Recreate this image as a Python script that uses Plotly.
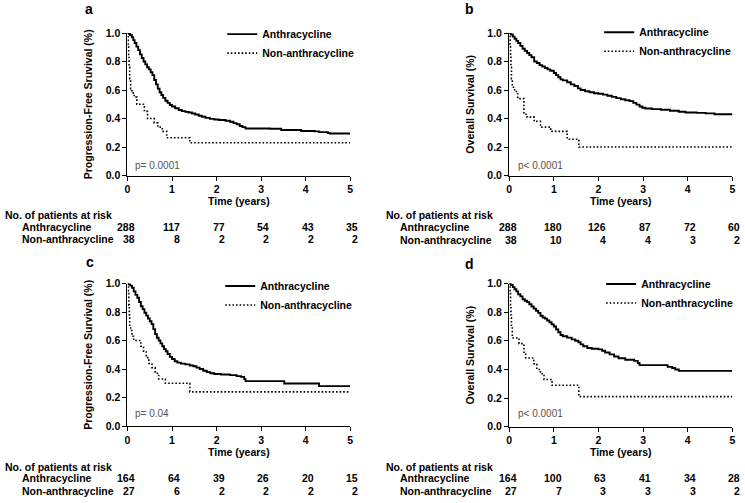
import plotly.graph_objects as go

# ---------------- data ----------------
# Panel a: Progression-free survival (all patients)
a_anth_t = [0, 0.03, 0.06, 0.1, 0.13, 0.16, 0.2, 0.24, 0.28, 0.32, 0.36, 0.4, 0.44, 0.48, 0.52, 0.56,
            0.6, 0.64, 0.68, 0.72, 0.76, 0.8, 0.85, 0.9, 0.95, 1.0, 1.07, 1.15, 1.22, 1.3, 1.37, 1.45,
            1.52, 1.6, 1.67, 1.75, 1.85, 1.95, 2.05, 2.2, 2.3, 2.38, 2.45, 2.52, 2.58, 2.65, 3.2, 3.45,
            3.9, 4.2, 4.3, 4.5, 4.55, 5.0]
a_anth_s = [1.0, 0.995, 0.985, 0.97, 0.95, 0.93, 0.905, 0.88, 0.85, 0.825, 0.8, 0.78, 0.76, 0.745, 0.725, 0.705,
            0.67, 0.64, 0.61, 0.585, 0.565, 0.545, 0.525, 0.51, 0.495, 0.485, 0.472, 0.46, 0.452, 0.447, 0.442, 0.435,
            0.428, 0.42, 0.413, 0.405, 0.398, 0.393, 0.39, 0.385, 0.378, 0.368, 0.36, 0.348, 0.34, 0.33, 0.328, 0.32,
            0.313, 0.31, 0.305, 0.298, 0.295, 0.295]
a_non_t = [0, 0.015, 0.025, 0.035, 0.05, 0.07, 0.1, 0.15, 0.21, 0.38, 0.45, 0.6, 0.68, 0.78, 0.88, 1.4, 5.0]
a_non_s = [1.0, 0.92, 0.84, 0.76, 0.68, 0.61, 0.58, 0.55, 0.5, 0.45, 0.4, 0.37, 0.34, 0.31, 0.265, 0.23, 0.23]

# Panel b: Overall survival (all patients)
b_anth_t = [0, 0.04, 0.08, 0.12, 0.16, 0.2, 0.25, 0.3, 0.35, 0.4, 0.45, 0.5, 0.56, 0.62, 0.68, 0.74, 0.8,
            0.86, 0.92, 1.0, 1.05, 1.1, 1.15, 1.2, 1.3, 1.38, 1.46, 1.54, 1.6, 1.7, 1.8, 1.9, 2.0, 2.1,
            2.2, 2.3, 2.4, 2.5, 2.6, 2.7, 2.78, 2.85, 2.92, 2.98, 3.05, 3.2, 3.4, 3.6, 3.8, 3.95, 4.2,
            4.4, 4.6, 5.0]
b_anth_s = [1.0, 0.99, 0.975, 0.96, 0.945, 0.93, 0.91, 0.89, 0.875, 0.86, 0.845, 0.83, 0.8, 0.79, 0.775, 0.765, 0.755,
            0.745, 0.735, 0.72, 0.705, 0.69, 0.675, 0.668, 0.655, 0.64, 0.628, 0.612, 0.6, 0.592, 0.585, 0.578, 0.574, 0.568,
            0.56, 0.552, 0.543, 0.535, 0.528, 0.522, 0.51, 0.498, 0.485, 0.476, 0.47, 0.466, 0.462, 0.455, 0.448, 0.442, 0.44,
            0.436, 0.43, 0.43]
b_non_t = [0, 0.02, 0.03, 0.04, 0.05, 0.07, 0.12, 0.19, 0.33, 0.4, 0.56, 0.7, 0.93, 1.3, 1.56, 5.0]
b_non_s = [1.0, 0.92, 0.84, 0.76, 0.68, 0.62, 0.59, 0.54, 0.43, 0.41, 0.38, 0.34, 0.31, 0.255, 0.2, 0.2]

# Panel c: Progression-free survival (subgroup)
c_anth_t = [0, 0.03, 0.06, 0.1, 0.14, 0.18, 0.22, 0.26, 0.3, 0.34, 0.38, 0.42, 0.46, 0.5, 0.54, 0.58,
            0.62, 0.66, 0.7, 0.74, 0.78, 0.82, 0.86, 0.9, 0.95, 1.0, 1.06, 1.12, 1.2, 1.3, 1.4, 1.48,
            1.55, 1.62, 1.7, 1.78, 1.86, 1.95, 2.1, 2.3, 2.45, 2.55, 2.62, 2.65, 3.52, 4.3, 5.0]
c_anth_s = [1.0, 0.995, 0.985, 0.97, 0.945, 0.92, 0.9, 0.87, 0.84, 0.82, 0.795, 0.775, 0.755, 0.735, 0.715, 0.68,
            0.645, 0.62, 0.6, 0.58, 0.56, 0.54, 0.525, 0.505, 0.485, 0.47, 0.455, 0.445, 0.438, 0.433, 0.425, 0.42,
            0.41, 0.4, 0.388, 0.378, 0.37, 0.365, 0.362, 0.357, 0.35, 0.345, 0.33, 0.315, 0.298, 0.28, 0.28]
c_non_t = [0, 0.02, 0.03, 0.04, 0.05, 0.07, 0.1, 0.14, 0.3, 0.36, 0.42, 0.48, 0.55, 0.62, 0.7, 0.85, 1.4, 5.0]
c_non_s = [1.0, 0.93, 0.85, 0.78, 0.7, 0.67, 0.63, 0.6, 0.56, 0.52, 0.48, 0.44, 0.41, 0.37, 0.33, 0.3, 0.24, 0.24]

# Panel d: Overall survival (subgroup)
d_anth_t = [0, 0.04, 0.08, 0.12, 0.16, 0.2, 0.25, 0.3, 0.35, 0.4, 0.45, 0.5, 0.55, 0.6, 0.65, 0.7, 0.75,
            0.8, 0.85, 0.9, 0.95, 1.0, 1.05, 1.1, 1.15, 1.2, 1.3, 1.4, 1.48, 1.55, 1.6, 1.66, 1.75, 1.85,
            2.0, 2.08, 2.15, 2.25, 2.35, 2.45, 2.6, 2.8, 2.88, 2.92, 3.55, 3.65, 3.72, 3.8, 5.0]
d_anth_s = [1.0, 0.99, 0.975, 0.96, 0.945, 0.925, 0.91, 0.89, 0.88, 0.87, 0.855, 0.84, 0.825, 0.81, 0.795, 0.775, 0.763,
            0.755, 0.742, 0.73, 0.715, 0.7, 0.68, 0.66, 0.64, 0.632, 0.622, 0.61, 0.6, 0.59, 0.575, 0.562, 0.55, 0.545,
            0.54, 0.53, 0.518, 0.505, 0.49, 0.478, 0.468, 0.46, 0.445, 0.43, 0.418, 0.41, 0.4, 0.39, 0.39]
d_non_t = [0, 0.02, 0.03, 0.04, 0.05, 0.07, 0.22, 0.33, 0.37, 0.55, 0.62, 0.7, 0.78, 0.96, 1.56, 5.0]
d_non_s = [1.0, 0.93, 0.85, 0.78, 0.7, 0.62, 0.58, 0.52, 0.48, 0.44, 0.4, 0.37, 0.33, 0.29, 0.21, 0.21]

# numbers at risk
risk_times = [0, 1, 2, 3, 4, 5]
a_risk_anth = [288, 117, 77, 54, 43, 35]
a_risk_non = [38, 8, 2, 2, 2, 2]
b_risk_anth = [288, 180, 126, 87, 72, 60]
b_risk_non = [38, 10, 4, 4, 3, 2]
c_risk_anth = [164, 64, 39, 26, 20, 15]
c_risk_non = [27, 6, 2, 2, 2, 2]
d_risk_anth = [164, 100, 63, 41, 34, 28]
d_risk_non = [27, 7, 3, 3, 3, 2]

x_ticks = [0, 1, 2, 3, 4, 5]
y_ticks = [0, 0.2, 0.4, 0.6, 0.8, 1.0]
y_ticktext = ["0.0", "0.2", "0.4", "0.6", "0.8", "1.0"]

panel_letters = ["a", "b", "c", "d"]
y_titles = ["Progression-Free Sruvival (%)", "Overall Survival (%)",
            "Progression-Free Survival (%)", "Overall Survival (%)"]
p_texts = ["p= 0.0001", "p&lt; 0.0001", "p= 0.04", "p&lt; 0.0001"]
series_names = ["Anthracycline", "Non-anthracycline"]
risk_header = "No. of patients at risk"

curves = [
    (a_anth_t, a_anth_s, a_non_t, a_non_s, a_risk_anth, a_risk_non),
    (b_anth_t, b_anth_s, b_non_t, b_non_s, b_risk_anth, b_risk_non),
    (c_anth_t, c_anth_s, c_non_t, c_non_s, c_risk_anth, c_risk_non),
    (d_anth_t, d_anth_s, d_non_t, d_non_s, d_risk_anth, d_risk_non),
]

# ---------------- layout geometry (pixels) ----------------
W, H = 745, 503
FONT = "Liberation Sans, Arial, Helvetica, sans-serif"


def fx(px):
    return px / W


def fy(py):
    return 1 - py / H


# plot area: x0, x1, ytop, ybottom
geo = [(125.5, 350, 27.7, 173.7), (510.3, 735.3, 27.7, 173.7),
       (125.5, 350, 284.3, 430.3), (510.3, 735.3, 284.3, 431.0)]
letter_pos = [(87, 3), (470, 3), (88, 262), (470, 264)]
legend_pos = [(221, 14), (601, 12), (219, 272), (603, 270)]
p_pos = [(131, 163), (517, 163), (131, 417.5), (517, 417.5)]
risk_rows = [(0, 17, 214, 226, 239), (384, 398.5, 214, 226.5, 239.3),
             (0, 17, 472.7, 483.4, 497), (384, 398.5, 472.7, 483.4, 497)]

bold = dict(family=FONT, size=10.5, color="black", weight="bold")

fig = go.Figure()
layout = dict(width=W, height=H, margin=dict(l=0, r=0, t=0, b=0),
              paper_bgcolor="white", plot_bgcolor="white", showlegend=True,
              font=dict(family=FONT, color="black"))
annotations = []

for i, (at, as_, nt, ns, ra, rn) in enumerate(curves):
    sfx = "" if i == 0 else str(i + 1)
    xref, yref = "x" + sfx, "y" + sfx
    leg = "legend" + sfx
    x0, x1, yt, yb = geo[i]

    fig.add_trace(go.Scatter(x=at, y=as_, mode="lines", name=series_names[0],
                             line=dict(shape="hv", color="black", width=1.9),
                             xaxis=xref, yaxis=yref, legend=leg, cliponaxis=False,
                             hoverinfo="skip"))
    fig.add_trace(go.Scatter(x=nt, y=ns, mode="lines", name=series_names[1],
                             line=dict(shape="hv", color="black", width=1.6, dash="1.6px,2px"),
                             xaxis=xref, yaxis=yref, legend=leg, cliponaxis=False,
                             hoverinfo="skip"))

    axis_common = dict(showline=True, linecolor="black", linewidth=1.3, ticks="outside",
                       ticklen=4, tickwidth=1.3, tickcolor="black", showgrid=False,
                       zeroline=False, tickfont=bold, fixedrange=True)
    layout["xaxis" + sfx] = dict(domain=[fx(x0), fx(x1)], range=[0, 5], anchor=yref,
                                 tickvals=x_ticks,
                                 title=dict(text="Time (years)", font=bold, standoff=3),
                                 **axis_common)
    layout["yaxis" + sfx] = dict(domain=[fy(yb), fy(yt)], range=[0, 1], anchor=xref,
                                 tickvals=y_ticks, ticktext=y_ticktext,
                                 title=dict(text=y_titles[i], font=bold, standoff=10),
                                 **axis_common)
    lx, ly = legend_pos[i]
    layout[leg] = dict(x=fx(lx), y=fy(ly), xanchor="left", yanchor="top",
                       bgcolor="rgba(0,0,0,0)", font=bold, tracegroupgap=0, itemwidth=30)

    # panel letter
    px_, py_ = letter_pos[i]
    annotations.append(dict(text=panel_letters[i], x=fx(px_), y=fy(py_), xref="paper", yref="paper",
                            xanchor="center", yanchor="middle", showarrow=False,
                            font=dict(family=FONT, size=14, color="black", weight="bold")))
    # p-value
    ppx, ppy = p_pos[i]
    annotations.append(dict(text=p_texts[i], x=fx(ppx), y=fy(ppy), xref="paper", yref="paper",
                            xanchor="left", yanchor="middle", showarrow=False,
                            font=dict(family=FONT, size=10, color="#555555")))
    # risk table
    hx, lab_x, hy, r1y, r2y = risk_rows[i]
    annotations.append(dict(text=risk_header, x=fx(hx), y=fy(hy), xref="paper", yref="paper",
                            xanchor="left", yanchor="middle", showarrow=False, font=bold))
    annotations.append(dict(text=series_names[0], x=fx(lab_x), y=fy(r1y), xref="paper", yref="paper",
                            xanchor="left", yanchor="middle", showarrow=False, font=bold))
    annotations.append(dict(text=series_names[1], x=fx(lab_x), y=fy(r2y), xref="paper", yref="paper",
                            xanchor="left", yanchor="middle", showarrow=False, font=bold))
    for t, n1, n2 in zip(risk_times, ra, rn):
        annotations.append(dict(text=str(n1), x=t, y=fy(r1y), xref=xref, yref="paper",
                                xanchor="right", yanchor="middle", xshift=10, showarrow=False, font=bold))
        annotations.append(dict(text=str(n2), x=t, y=fy(r2y), xref=xref, yref="paper",
                                xanchor="right", yanchor="middle", xshift=10, showarrow=False, font=bold))

layout["annotations"] = annotations
fig.update_layout(**layout)
fig.write_html("out.html",
               config={"displayModeBar": False},
               post_script="document.body.style.margin='0px';document.body.style.padding='0px';")
